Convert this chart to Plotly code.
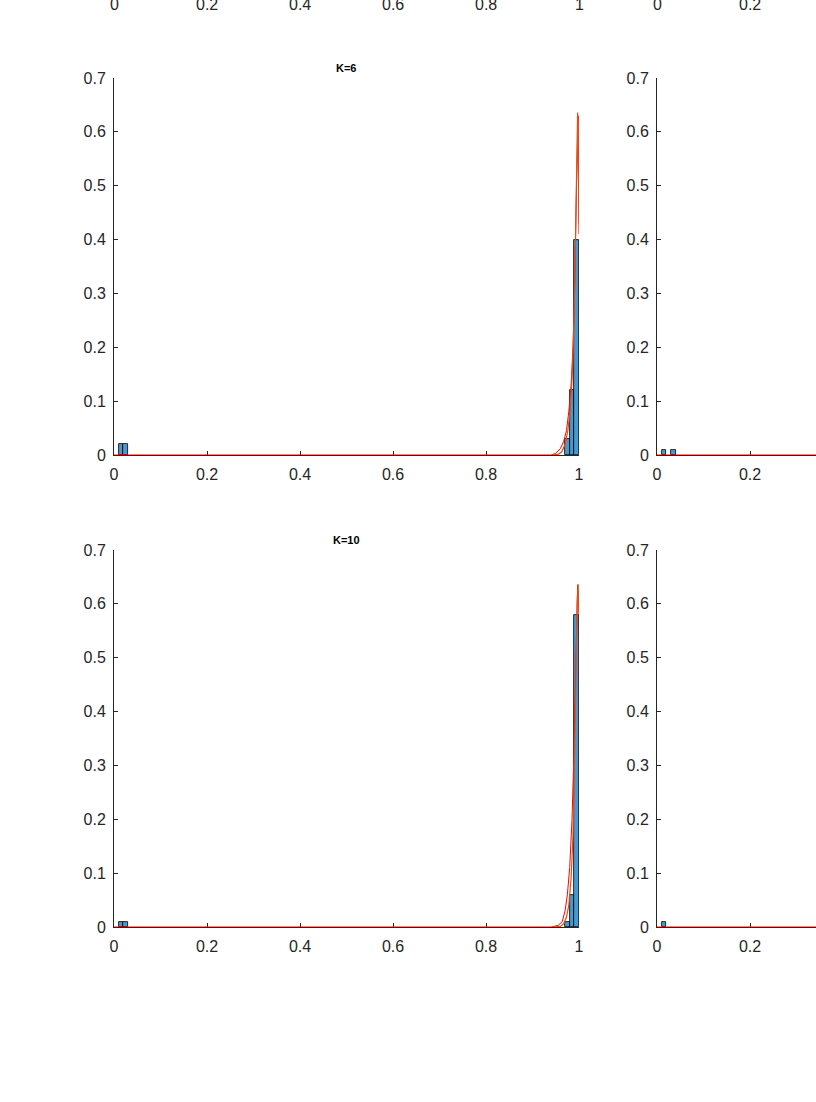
import plotly.graph_objects as go

# ---------------- data ----------------
bin_width = 0.01
x_ticks = [0, 0.2, 0.4, 0.6, 0.8, 1]
x_tick_labels = ["0", "0.2", "0.4", "0.6", "0.8", "1"]
y_ticks = [0, 0.1, 0.2, 0.3, 0.4, 0.5, 0.6, 0.7]
y_tick_labels = ["0", "0.1", "0.2", "0.3", "0.4", "0.5", "0.6", "0.7"]
right_tick_labels = ["0", "0.2"]

titles = ["K=6", "K=10"]

# K=6 (left, row 1 shown)
k6_bins = [0.015, 0.025, 0.975, 0.985, 0.995]
k6_probs = [0.02, 0.02, 0.03, 0.12, 0.40]
k6_red_x = [0, 0.94, 0.95, 0.96, 0.967, 0.973, 0.978, 0.983, 0.987, 0.991, 0.994, 0.996, 0.998, 1.0]
k6_red_y = [0, 0, 0.003, 0.012, 0.025, 0.045, 0.08, 0.13, 0.2, 0.32, 0.47, 0.58, 0.63, 0.41]
k6_orange_x = [0.94, 0.955, 0.963, 0.97, 0.976, 0.981, 0.985, 0.989, 0.992, 0.995, 0.997, 1.0]
k6_orange_y = [0, 0.001, 0.006, 0.02, 0.045, 0.085, 0.14, 0.24, 0.38, 0.56, 0.636, 0.43]

# K=10 (left, row 2 shown)
k10_bins = [0.015, 0.025, 0.975, 0.985, 0.995]
k10_probs = [0.01, 0.01, 0.01, 0.06, 0.58]
k10_red_x = [0, 0.94, 0.955, 0.964, 0.97, 0.975, 0.98, 0.985, 0.989, 0.992, 0.995, 0.997, 1.0]
k10_red_y = [0, 0, 0.003, 0.01, 0.03, 0.06, 0.11, 0.2, 0.32, 0.45, 0.58, 0.635, 0.58]
k10_orange_x = [0.945, 0.96, 0.967, 0.973, 0.978, 0.983, 0.987, 0.99, 0.993, 0.996, 0.998, 1.0]
k10_orange_y = [0, 0.001, 0.006, 0.018, 0.04, 0.09, 0.17, 0.29, 0.44, 0.6, 0.637, 0.58]

# right column (partly visible)
r1_bins = [0.015, 0.035]
r1_probs = [0.01, 0.01]
r2_bins = [0.015]
r2_probs = [0.01]
flat_x = [0, 0.5, 1.0]
flat_y = [0, 0, 0]

# ---------------- figure ----------------
W, H = 816, 1102
BAR_COLOR = "rgba(0,114,189,0.72)"
RED = "#FF0000"
ORANGE = "#D95319"
AX = "#262626"
FONT = "Liberation Sans, Arial, Helvetica, sans-serif"

fig = go.Figure()

panels = [
    ("x", "y", k6_bins, k6_probs, (k6_red_x, k6_red_y), (k6_orange_x, k6_orange_y)),
    ("x2", "y2", r1_bins, r1_probs, (flat_x, flat_y), None),
    ("x3", "y3", k10_bins, k10_probs, (k10_red_x, k10_red_y), (k10_orange_x, k10_orange_y)),
    ("x4", "y4", r2_bins, r2_probs, (flat_x, flat_y), None),
]

for xa, ya, bins, probs, red, orange in panels:
    fig.add_trace(go.Bar(x=bins, y=probs, width=[bin_width] * len(bins),
                         marker=dict(color=BAR_COLOR, line=dict(color="black", width=0.8)),
                         xaxis=xa, yaxis=ya, showlegend=False))
    fig.add_trace(go.Scatter(x=red[0], y=red[1], mode="lines", line=dict(color=RED, width=1),
                             xaxis=xa, yaxis=ya, showlegend=False, cliponaxis=False))
    if orange is not None:
        fig.add_trace(go.Scatter(x=orange[0], y=orange[1], mode="lines",
                                 line=dict(color=ORANGE, width=1.2),
                                 xaxis=xa, yaxis=ya, showlegend=False, cliponaxis=False))

left_dom = [114 / W, 579 / W]
right_dom = [657 / W, 1.0]
right_max = (W - 657) / 465
row1 = [1 - 455 / H, 1 - 78 / H]
row2 = [1 - 927 / H, 1 - 550 / H]

def xax(domain, anchor, rng):
    return dict(domain=domain, anchor=anchor, range=rng, tickvals=x_ticks, ticktext=x_tick_labels,
                showline=True, linecolor=AX, linewidth=1, ticks="inside", ticklen=4, tickcolor=AX,
                showgrid=False, zeroline=False, layer="below traces", ticklabelstandoff=5,
                automargin=False,
                tickfont=dict(family=FONT, size=16, color=AX), fixedrange=True)

def yax(domain, anchor):
    return dict(domain=domain, anchor=anchor, range=[0, 0.7], tickvals=y_ticks, ticktext=y_tick_labels,
                showline=True, linecolor=AX, linewidth=1, ticks="inside", ticklen=4, tickcolor=AX,
                showgrid=False, zeroline=False, layer="below traces", ticklabelstandoff=4,
                automargin=False,
                tickfont=dict(family=FONT, size=16, color=AX), fixedrange=True)

fig.update_layout(
    width=W, height=H,
    margin=dict(l=0, r=0, t=0, b=0, pad=0, autoexpand=False),
    paper_bgcolor="white", plot_bgcolor="white",
    bargap=0,
    xaxis=xax(left_dom, "y", [0, 1]),
    yaxis=yax(row1, "x"),
    xaxis2=xax(right_dom, "y2", [0, right_max]),
    yaxis2=yax(row1, "x2"),
    xaxis3=xax(left_dom, "y3", [0, 1]),
    yaxis3=yax(row2, "x3"),
    xaxis4=xax(right_dom, "y4", [0, right_max]),
    yaxis4=yax(row2, "x4"),
)

# panel titles
for t, ypix in zip(titles, [68, 540]):
    fig.add_annotation(text=f"<b>{t}</b>", xref="paper", yref="paper",
                       x=(left_dom[0] + left_dom[1]) / 2, y=1 - ypix / H,
                       xanchor="center", yanchor="middle", showarrow=False,
                       font=dict(family=FONT, size=11, color="black"))

# tick labels of the row cut off at the top of the page
for v, lab in zip(x_ticks, x_tick_labels):
    fig.add_annotation(text=lab, xref="x", yref="paper", x=v, y=1 - 5 / H,
                       xanchor="center", yanchor="middle", showarrow=False,
                       font=dict(family=FONT, size=16, color=AX))
for v, lab in zip(x_ticks[:2], right_tick_labels):
    fig.add_annotation(text=lab, xref="x2", yref="paper", x=v, y=1 - 5 / H,
                       xanchor="center", yanchor="middle", showarrow=False,
                       font=dict(family=FONT, size=16, color=AX))

fig.write_html("out.html", config={"displayModeBar": False},
               post_script="document.body.style.margin='0';document.body.style.overflow='hidden';")
